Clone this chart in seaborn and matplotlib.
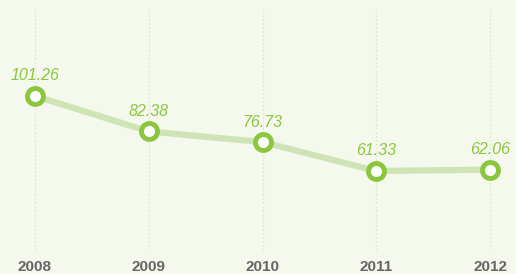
import matplotlib
matplotlib.use("Agg")
import matplotlib.pyplot as plt
import seaborn as sns
import pandas as pd

years = [2008, 2009, 2010, 2011, 2012]
values = [101.26, 82.38, 76.73, 61.33, 62.06]
labels = ["101.26", "82.38", "76.73", "61.33", "62.06"]

bg = "#f4f8ed"
sns.set_style("white")
plt.rcParams['font.family'] = ['Liberation Sans', 'DejaVu Sans']

df = pd.DataFrame({"year": years, "value": values})

fig = plt.figure(figsize=(5.16, 2.74), dpi=100, facecolor=bg)
ax = fig.add_axes([0, 24 / 274, 1, 242 / 274])
ax.set_facecolor(bg)

sns.lineplot(data=df, x="year", y="value", ax=ax, color="#cfe4b4", linewidth=4.5, zorder=2)
ax.plot(years, values, linestyle="none", marker="o", markersize=11.5,
        markerfacecolor="white", markeredgecolor="#8cc63e", markeredgewidth=3.5, zorder=3)

for x, y, t in zip(years, values, labels):
    ax.annotate(t, (x, y), xytext=(0, 9), textcoords="offset points", ha="center",
                va="bottom", fontsize=11.5, fontstyle="italic", color="#8cc63e")

ax.set_xlim(2008 - 35 / 113.75, 2012 + 26 / 113.75)
ax.set_ylim(19.26, 148.1)
ax.set_xticks(years)
ax.set_xticklabels([str(y) for y in years], fontsize=11, fontweight="bold", color="#666666")
ax.set_yticks([])
ax.tick_params(axis="x", length=0, pad=7)
ax.grid(axis="x", color="#d9e8c4", linestyle=(0, (1.5, 2)), linewidth=0.8)
ax.set_xlabel("")
ax.set_ylabel("")
for s in ax.spines.values():
    s.set_visible(False)

fig.savefig("out.png", dpi=100, facecolor=bg)
